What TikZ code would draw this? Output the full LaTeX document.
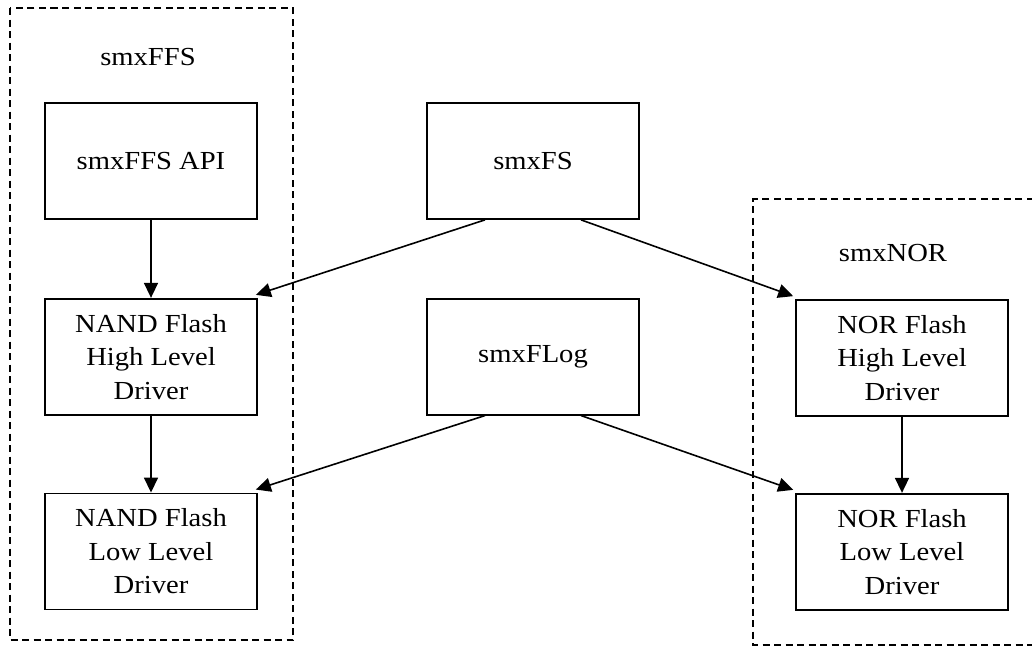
\documentclass[tikz,border=0pt]{standalone}
\usepackage{fontspec}
\setmainfont{Liberation Serif}[FakeStretch=1.1]
\usetikzlibrary{arrows.meta,positioning}

\begin{document}
\begin{tikzpicture}[x=1pt, y=-1pt, node distance=78pt, >={Triangle[length=15pt,width=14pt]},
        box/.style={draw, line width=1.7pt, minimum width=212pt, minimum height=116pt, inner sep=0pt, align=center},
        group/.style={draw, line width=1.3pt, dash pattern=on 7pt off 4.5pt},
        every node/.style={font=\fontsize{26}{33.5}\selectfont}]
        \useasboundingbox (0,0) rectangle (1032,646);

        \draw[group] (10,8) rectangle (293,640);
        \draw[group] (1045,199) -- (753,199) -- (753,645) -- (1045,645);

        \node (ffs) at (148,57) {smxFFS};
        \node[box] (api) at (151,161) {smxFFS API};
        \node[box, below=of api] (nandhigh) {NAND Flash\\High Level\\Driver};
        \node[box, below=77pt of nandhigh] (nandlow) {NAND Flash\\Low Level\\Driver};

        \node[box] (fs) at (533,161) {smxFS};
        \node[box, below=of fs] (flog) {smxFLog};

        \node (nor) at (893,253) {smxNOR};
        \node[box] (norhigh) at (902,358) {NOR Flash\\High Level\\Driver};
        \node[box, below=76pt of norhigh] (norlow) {NOR Flash\\Low Level\\Driver};

        \draw[->, line width=1.6pt] (api) -- (nandhigh);
        \draw[->, line width=1.6pt] (nandhigh) -- (nandlow);
        \draw[->, line width=1.6pt] (norhigh) -- (norlow);
        \draw[->, line width=1.6pt] ([xshift=-48pt]fs.south) -- ([xshift=-2pt, yshift=3pt]nandhigh.north east);
        \draw[->, line width=1.6pt] ([xshift=48pt]fs.south) -- ([xshift=-2pt, yshift=3pt]norhigh.north west);
        \draw[->, line width=1.6pt] ([xshift=-48pt]flog.south) -- ([xshift=-2pt, yshift=3pt]nandlow.north east);
        \draw[->, line width=1.6pt] ([xshift=48pt]flog.south) -- ([xshift=-2pt, yshift=3pt]norlow.north west);
    \end{tikzpicture}
\end{document}
